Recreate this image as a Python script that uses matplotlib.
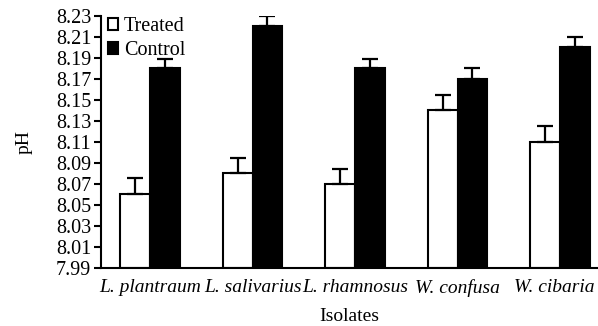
import matplotlib.pyplot as plt
import matplotlib.transforms as mtransforms
import numpy as np

plt.rcParams["font.family"] = ["Liberation Serif", "DejaVu Serif"]

isolates = ["L. plantraum", "L. salivarius", "L. rhamnosus", "W. confusa", "W. cibaria"]
treated = [8.06, 8.08, 8.07, 8.14, 8.11]
treated_err = [0.016, 0.015, 0.014, 0.015, 0.015]
control = [8.18, 8.22, 8.18, 8.17, 8.20]
control_err = [0.009, 0.01, 0.009, 0.01, 0.01]
yticks = [7.99, 8.01, 8.03, 8.05, 8.07, 8.09, 8.11, 8.13, 8.15, 8.17, 8.19, 8.21, 8.23]

fig = plt.figure(figsize=(5.98, 3.26), dpi=100)
ax = fig.add_axes([0.169, 0.178, 0.831, 0.773])

x = np.arange(len(isolates))
w = 0.29
base = 7.99
ekw = dict(elinewidth=1.6, capthick=1.6, capsize=6)

ax.bar(x - w / 2, np.array(treated) - base, w, bottom=base, color="white",
       edgecolor="black", linewidth=1.5, label="Treated",
       yerr=[np.zeros(5), treated_err], error_kw=ekw)
ax.bar(x + w / 2, np.array(control) - base, w, bottom=base, color="black",
       edgecolor="black", linewidth=1.5, label="Control",
       yerr=[np.zeros(5), control_err], error_kw=ekw)

ax.set_ylim(7.99, 8.23)
ax.set_yticks(yticks)
ax.set_yticklabels([f"{t:.2f}" for t in yticks])
ax.set_xlim(-0.478, 4.37)
ax.set_xticks(x)
ax.set_xticklabels(isolates, style="italic")
ax.tick_params(axis="x", length=0, labelsize=14, pad=8)
ax.tick_params(axis="y", length=5, width=1.5, labelsize=14.5, pad=2)

# keep the last species name inside the canvas
last = ax.get_xticklabels()[-1]
last.set_transform(last.get_transform() +
                   mtransforms.ScaledTranslation(-4 / 72, 0, fig.dpi_scale_trans))

for side in ("top", "right"):
    ax.spines[side].set_visible(False)
for side in ("left", "bottom"):
    ax.spines[side].set_linewidth(1.5)

ax.set_ylabel("pH", fontsize=14, labelpad=17)
ax.set_xlabel("Isolates", fontsize=14, labelpad=8)

ax.legend(loc="upper left", bbox_to_anchor=(0.16, 0.985), bbox_transform=fig.transFigure,
          frameon=False, fontsize=14.5, handlelength=0.5, handleheight=0.5,
          handletextpad=0.3, labelspacing=0.25, borderaxespad=0.2)

fig.savefig("out.png", dpi=100)
